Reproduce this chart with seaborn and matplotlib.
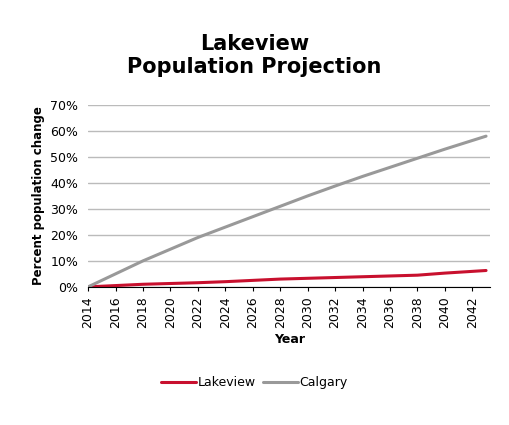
import matplotlib
matplotlib.use("Agg")
import matplotlib.pyplot as plt
import seaborn as sns
import pandas as pd
from matplotlib.lines import Line2D

years = [2014, 2016, 2018, 2020, 2022, 2024, 2026, 2028, 2030, 2032, 2034, 2036, 2038, 2040, 2043]
lakeview = [0.0, 0.5, 1.0, 1.3, 1.6, 2.0, 2.5, 3.0, 3.3, 3.6, 3.9, 4.2, 4.5, 5.3, 6.3]
calgary = [0.0, 5.0, 10.0, 14.5, 19.0, 23.0, 27.0, 31.0, 35.0, 38.8, 42.5, 46.0, 49.5, 53.0, 58.0]
xticks = list(range(2014, 2043, 2))

df = pd.DataFrame({"Year": years * 2, "value": lakeview + calgary,
                   "series": ["Lakeview"] * len(years) + ["Calgary"] * len(years)})

sns.set_style("white")
plt.rcParams["text.color"] = "black"
plt.rcParams["axes.labelcolor"] = "black"
plt.rcParams["xtick.color"] = "black"
plt.rcParams["ytick.color"] = "black"
fig = plt.figure(figsize=(5.09, 4.25), dpi=100)
ax = fig.add_axes([0.173, 0.325, 0.79, 0.428])
sns.lineplot(data=df, x="Year", y="value", hue="series",
             palette={"Lakeview": "#c8102e", "Calgary": "#999999"},
             linewidth=2.2, ax=ax, legend=False)
ax.set_xlim(2014, 2043.3)
ax.set_ylim(0, 70)
ax.set_yticks(range(0, 71, 10))
ax.set_yticklabels([f"{v}%" for v in range(0, 71, 10)], fontsize=9)
ax.set_xticks(xticks)
ax.set_xticklabels([str(x) for x in xticks], rotation=90, fontsize=9)
ax.yaxis.grid(True, color="#bbbbbb", linewidth=1)
for s in ["left", "right", "top"]:
    ax.spines[s].set_visible(False)
ax.spines["bottom"].set_color("black")
ax.tick_params(axis="x", length=3, bottom=True, color="black")
ax.set_xlabel("Year", fontsize=9, fontweight="bold")
ax.set_ylabel("Percent population change", fontsize=8.5, fontweight="bold")
fig.suptitle("Lakeview\nPopulation Projection", y=0.92, fontsize=15, fontweight="bold")
handles = [Line2D([], [], color="#c8102e", lw=2.2), Line2D([], [], color="#999999", lw=2.2)]
fig.legend(handles, ["Lakeview", "Calgary"], loc="center", bbox_to_anchor=(0.5, 0.1),
           ncol=2, frameon=False, fontsize=9, handlelength=2.8, handletextpad=0.1,
           columnspacing=0.6)
fig.savefig("out.png", dpi=100)
